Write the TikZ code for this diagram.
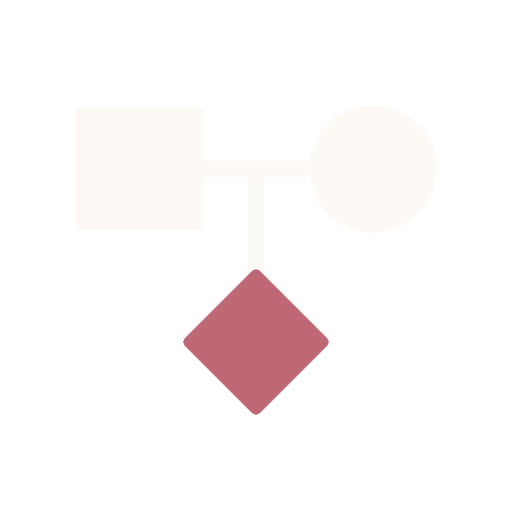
\documentclass[tikz,border=0pt]{standalone}
\usetikzlibrary{shapes.geometric,backgrounds}
\definecolor{cream}{HTML}{FDFAF6}
\definecolor{rose}{HTML}{BE6876}
\tikzset{
  shapebox/.style={fill=cream, draw=none, inner sep=0pt},
  link/.style={draw=cream, line width=16pt},
}
\begin{document}
\begin{tikzpicture}[x=1pt,y=-1pt]
\useasboundingbox (0,0) rectangle (512,512);
\node[shapebox, minimum width=128pt, minimum height=122pt, rounded corners=2pt] (sq) at (140,169) {};
\node[shapebox, circle, minimum size=127pt] (ci) at (373,169) {};
\node[diamond, fill=rose, draw=none, inner sep=0pt, minimum width=150pt, minimum height=150pt, rounded corners=5pt] (dm) at (256,342) {};
\coordinate (jn) at (256,169);
\begin{scope}[on background layer]
\fill[white] (0,0) rectangle (512,512);
\draw[link] (sq.east) -- (ci.west);
\draw[link] (jn) -- ([yshift=-8pt]dm.north);
\end{scope}
\end{tikzpicture}
\end{document}
